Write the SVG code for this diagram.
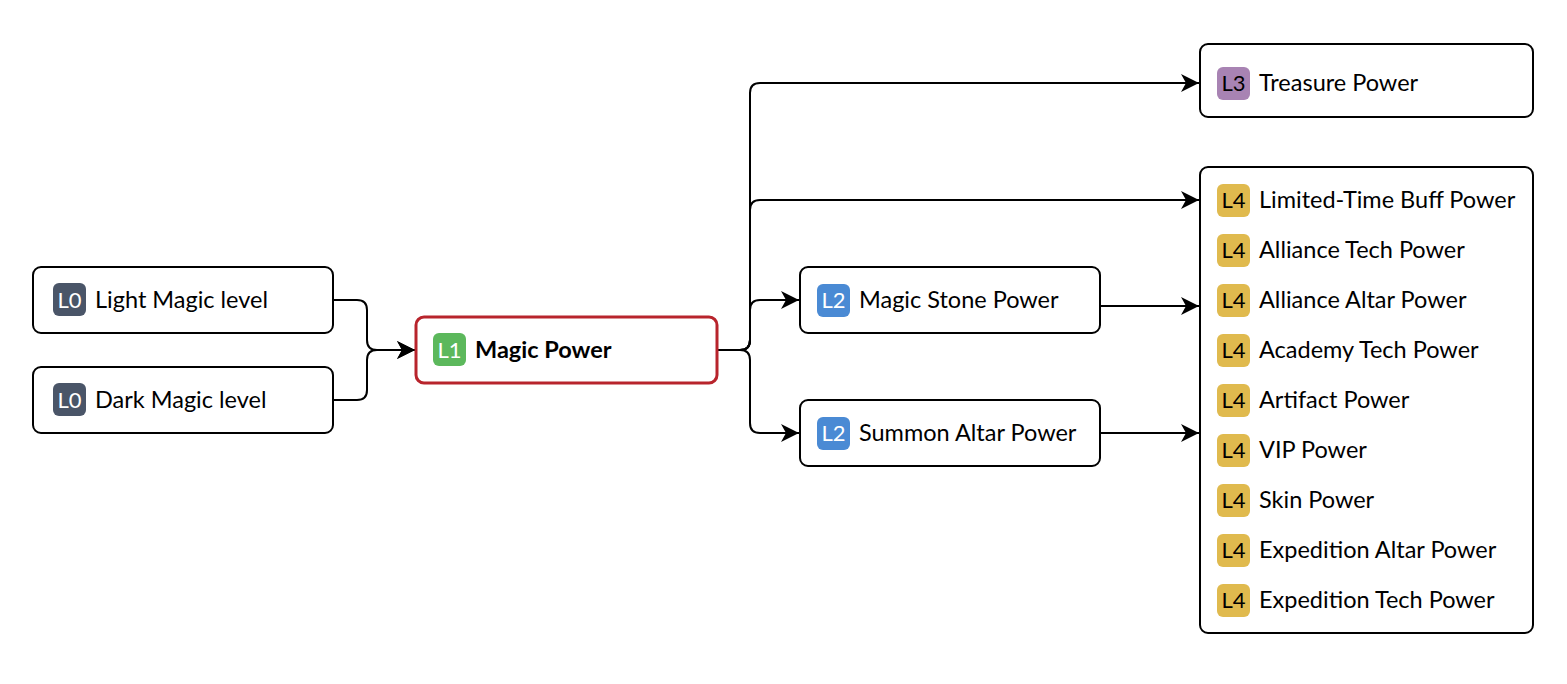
<svg xmlns="http://www.w3.org/2000/svg" width="1567" height="684" viewBox="0 0 1567 684">
<defs>
<marker id="arr" markerUnits="userSpaceOnUse" markerWidth="20" markerHeight="20" refX="18" refY="9" orient="auto">
<path d="M0,0 L18,9 L0,18 L5,9 Z" fill="#000"/>
</marker>
<style>
.box{fill:#fff;stroke:#000;stroke-width:2}
.main{fill:#fff;stroke:#b8242c;stroke-width:3}
.lbl{font-family:Lato,"Noto Sans","Liberation Sans",sans-serif;font-size:23.5px;fill:#000;dominant-baseline:central}
.bold{font-weight:bold}
.bt{font-family:Lato,"Noto Sans","Liberation Sans",sans-serif;font-size:22px;text-anchor:middle;dominant-baseline:central}
.w{fill:#fff}
.k{fill:#000}
.c{fill:none;stroke:#000;stroke-width:2}
</style>
</defs>
<rect width="1567" height="684" fill="#fff"/>
<g id="connectors">
<path class="c" d="M333,300 H357 Q367,300 367,310 V340 Q367,350 377,350 H415" marker-end="url(#arr)"/>
<path class="c" d="M333,400 H357 Q367,400 367,390 V360 Q367,350 377,350 H415" marker-end="url(#arr)"/>
<path class="c" d="M717,350 H740 Q750,350 750,340 V93 Q750,83 760,83 H1199" marker-end="url(#arr)"/>
<path class="c" d="M717,350 H740 Q750,350 750,340 V210 Q750,200 760,200 H1199" marker-end="url(#arr)"/>
<path class="c" d="M717,350 H740 Q750,350 750,340 V310 Q750,300 760,300 H799" marker-end="url(#arr)"/>
<path class="c" d="M717,350 H740 Q750,350 750,360 V423 Q750,433 760,433 H799" marker-end="url(#arr)"/>
<path class="c" d="M1100,306 H1199" marker-end="url(#arr)"/>
<path class="c" d="M1100,433 H1199" marker-end="url(#arr)"/>
</g>
<g id="light">
<rect class="box" x="33" y="267" width="300" height="66" rx="8"/>
<rect x="53" y="283" width="33" height="33" rx="6" fill="#4a5568"/>
<text class="bt w" x="69.5" y="299">L0</text>
<text class="lbl" x="95" y="299">Light Magic level</text>
</g>
<g id="dark">
<rect class="box" x="33" y="367" width="300" height="66" rx="8"/>
<rect x="53" y="383" width="33" height="33" rx="6" fill="#4a5568"/>
<text class="bt w" x="69.5" y="399">L0</text>
<text class="lbl" x="95" y="399">Dark Magic level</text>
</g>
<g id="magic">
<rect class="main" x="416" y="317" width="301" height="66" rx="8"/>
<rect x="433" y="333" width="33" height="33" rx="6" fill="#5cb85c"/>
<text class="bt w" x="449.5" y="349">L1</text>
<text class="lbl bold" x="475" y="349">Magic Power</text>
</g>
<g id="stone">
<rect class="box" x="800" y="267" width="300" height="66" rx="8"/>
<rect x="817" y="284" width="33" height="33" rx="6" fill="#4a8ad4"/>
<text class="bt w" x="833.5" y="299">L2</text>
<text class="lbl" x="859" y="299">Magic Stone Power</text>
</g>
<g id="summon">
<rect class="box" x="800" y="400" width="300" height="66" rx="8"/>
<rect x="817" y="417" width="33" height="33" rx="6" fill="#4a8ad4"/>
<text class="bt w" x="833.5" y="432">L2</text>
<text class="lbl" x="859" y="432">Summon Altar Power</text>
</g>
<g id="treasure">
<rect class="box" x="1200" y="44" width="333" height="73" rx="8"/>
<rect x="1217" y="67" width="33" height="33" rx="6" fill="#a883b3"/>
<text class="bt k" x="1233.5" y="82">L3</text>
<text class="lbl" x="1259" y="82">Treasure Power</text>
</g>
<g id="l4group">
<rect class="box" x="1200" y="167" width="333" height="466" rx="8"/>
<g fill="#e0ba4e">
<rect x="1217" y="184" width="33" height="33" rx="6"/>
<rect x="1217" y="234" width="33" height="33" rx="6"/>
<rect x="1217" y="284" width="33" height="33" rx="6"/>
<rect x="1217" y="334" width="33" height="33" rx="6"/>
<rect x="1217" y="384" width="33" height="33" rx="6"/>
<rect x="1217" y="434" width="33" height="33" rx="6"/>
<rect x="1217" y="484" width="33" height="33" rx="6"/>
<rect x="1217" y="534" width="33" height="33" rx="6"/>
<rect x="1217" y="584" width="33" height="33" rx="6"/>
</g>
<text class="bt k" x="1233.5" y="199">L4</text>
<text class="bt k" x="1233.5" y="249">L4</text>
<text class="bt k" x="1233.5" y="299">L4</text>
<text class="bt k" x="1233.5" y="349">L4</text>
<text class="bt k" x="1233.5" y="399">L4</text>
<text class="bt k" x="1233.5" y="449">L4</text>
<text class="bt k" x="1233.5" y="499">L4</text>
<text class="bt k" x="1233.5" y="549">L4</text>
<text class="bt k" x="1233.5" y="599">L4</text>
<text class="lbl" x="1259" y="199">Limited-Time Buff Power</text>
<text class="lbl" x="1259" y="249">Alliance Tech Power</text>
<text class="lbl" x="1259" y="299">Alliance Altar Power</text>
<text class="lbl" x="1259" y="349">Academy Tech Power</text>
<text class="lbl" x="1259" y="399">Artifact Power</text>
<text class="lbl" x="1259" y="449">VIP Power</text>
<text class="lbl" x="1259" y="499">Skin Power</text>
<text class="lbl" x="1259" y="549">Expedition Altar Power</text>
<text class="lbl" x="1259" y="599">Expedition Tech Power</text>
</g>
</svg>
